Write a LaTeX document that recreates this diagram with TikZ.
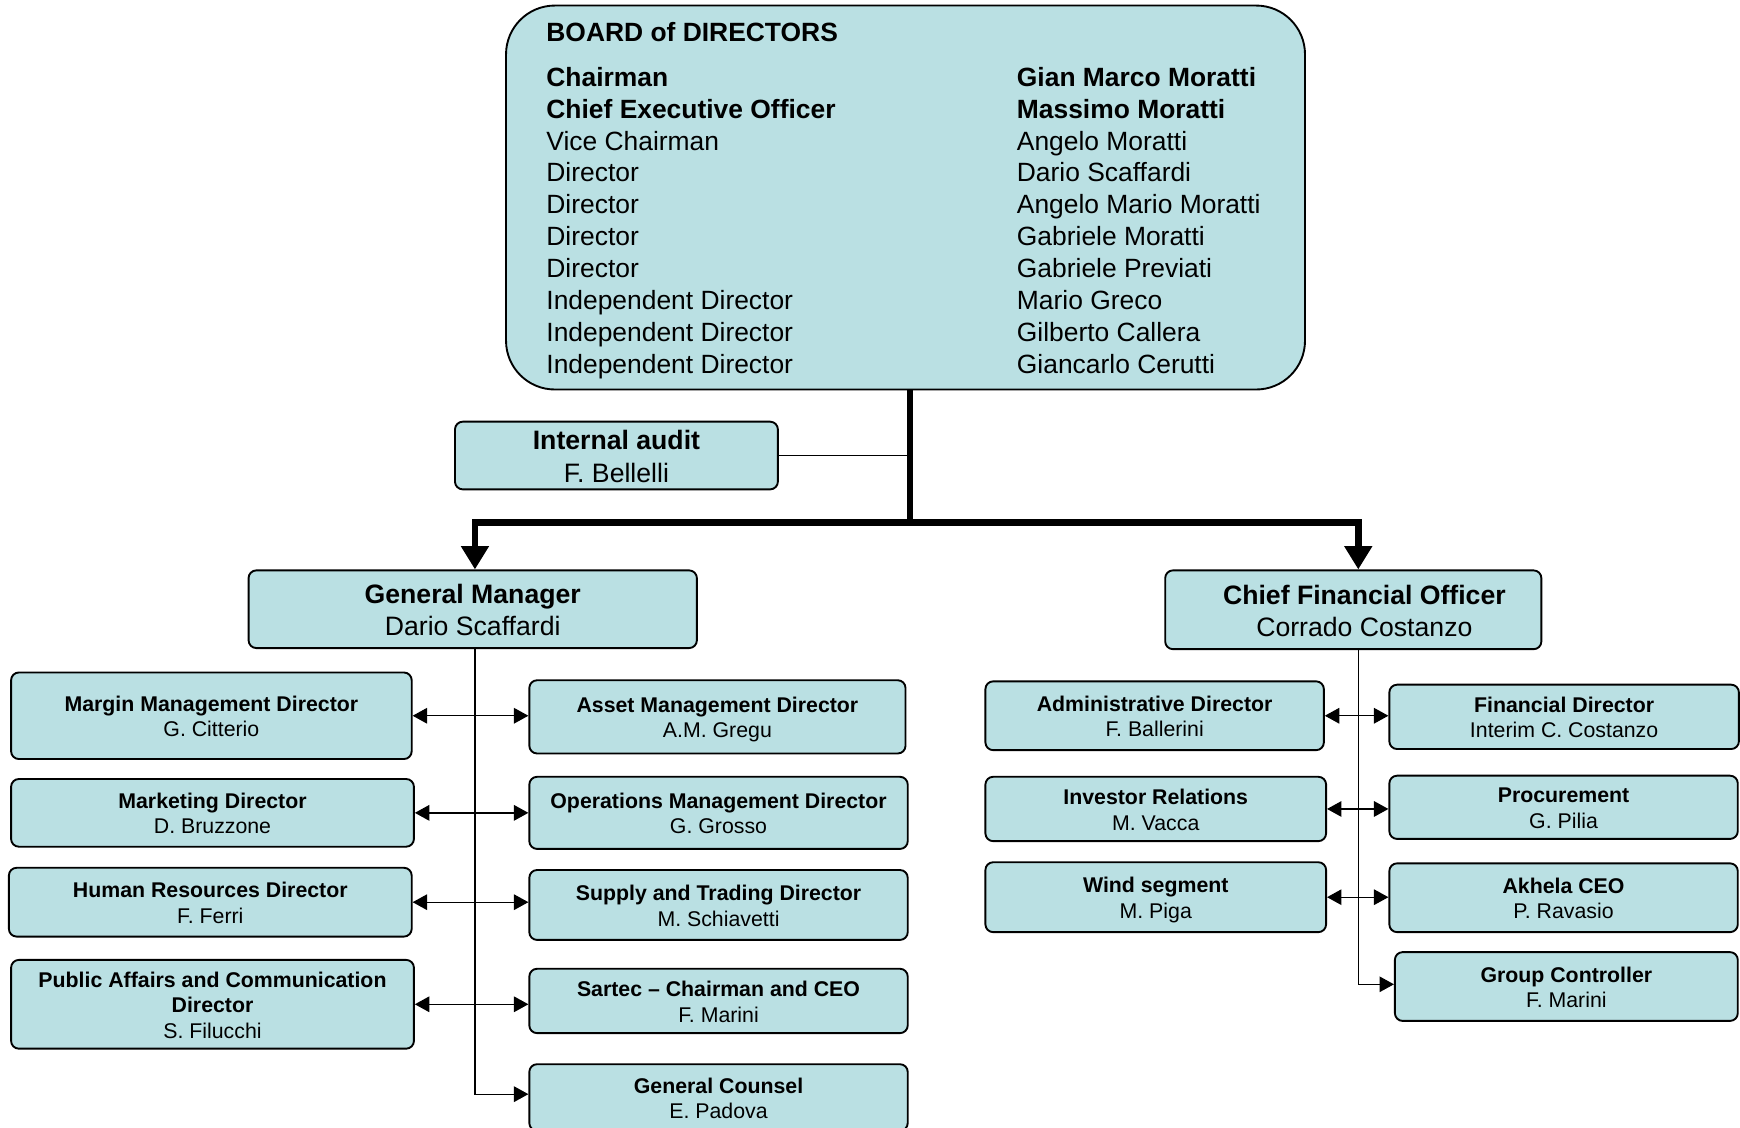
\documentclass[tikz,border=0pt]{standalone}
\usepackage{fontspec}
\setmainfont{Liberation Sans}
\usetikzlibrary{arrows.meta}
\definecolor{boxfill}{RGB}{186,224,227}

% invisible strut that centres cap-height text lines in a box
\newcommand\lnstrut{\rule[-0.2em]{0pt}{1.184em}}
% \orgbox{style}{name}{x1}{y1}{x2}{y2}{text}: box given by its corners
\newcommand\orgbox[7]{%
  \node[#1, minimum width={(#5-#3)*0.5pt}, minimum height={(#6-#4)*0.5pt}]
    (#2) at ({(#3+#5)/2},{(#4+#6)/2}) {\lnstrut#7\lnstrut};}

\tikzset{
  orgnode/.style={draw=black, line width=0.85pt, fill=boxfill,
    rounded corners=3.5pt, inner sep=0pt, align=center},
  subbox/.style={orgnode, font=\fontsize{9.6}{11.5}\selectfont},
  headbox/.style={orgnode, font=\fontsize{12}{14.5}\selectfont},
  boardbox/.style={orgnode, rounded corners=22pt},
  busline/.style={line width=0.6pt},
  feed/.style={busline, -{Triangle[length=6.5pt,width=7pt]}},
  twoway/.style={busline,
    {Triangle[length=6.5pt,width=7pt]}-{Triangle[length=6.5pt,width=7pt]}},
  mainline/.style={line width=3pt},
  mainfeed/.style={mainline, -{Triangle[length=10.5pt,width=12pt]}},
}

\begin{document}
\begin{tikzpicture}[x=0.5pt,y=-0.5pt]
\useasboundingbox (0,0) rectangle (1568,1016);
\clip (0,0) rectangle (1568,1016);

% board of directors
\orgbox{boardbox}{board}{456}{5}{1176}{351}{}
\node[anchor=base west, inner sep=0pt, font=\fontsize{11.9}{14.4}\selectfont]
  (boardtext) at (492,37) {%
  \begin{tabular}[t]{@{}p{212pt}@{}l@{}}
  \textbf{BOARD of DIRECTORS} & \\[5.9pt]
  \textbf{Chairman} & \textbf{Gian Marco Moratti}\\
  \textbf{Chief Executive Officer} & \textbf{Massimo Moratti}\\
  Vice Chairman & Angelo Moratti\\
  Director & Dario Scaffardi\\
  Director & Angelo Mario Moratti\\
  Director & Gabriele Moratti\\
  Director & Gabriele Previati\\
  Independent Director & Mario Greco\\
  Independent Director & Gilberto Callera\\
  Independent Director & Giancarlo Cerutti
  \end{tabular}};

% top level units
\orgbox{headbox}{audit}{410}{380}{701}{441}{\textbf{Internal audit}\\F. Bellelli}
\orgbox{headbox}{gm}{224}{514}{628}{584}{\textbf{General Manager}\\Dario Scaffardi}
\orgbox{headbox}{cfo}{1050}{514}{1389}{585}{\hspace*{10pt}\textbf{Chief Financial Officer}\\\hspace*{10pt}Corrado Costanzo}

% general manager's reports
\orgbox{subbox}{mm}{10}{606}{371}{684}{\textbf{Margin Management Director}\\G. Citterio}
\orgbox{subbox}{mk}{10}{702}{373}{763}{\textbf{Marketing Director}\\D. Bruzzone}
\orgbox{subbox}{hr}{8}{782}{371}{844}{\textbf{Human Resources Director}\\F. Ferri}
\orgbox{subbox}{pa}{10}{865}{373}{945}{\textbf{Public Affairs and Communication}\\\textbf{Director}\\S. Filucchi}
\orgbox{subbox}{am}{477}{613}{816}{679}{\textbf{Asset Management Director}\\A.M. Gregu}
\orgbox{subbox}{om}{477}{700}{818}{765}{\textbf{Operations Management Director}\\G. Grosso}
\orgbox{subbox}{st}{477}{784}{818}{847}{\textbf{Supply and Trading Director}\\M. Schiavetti}
\orgbox{subbox}{sc}{477}{873}{818}{931}{\textbf{Sartec -- Chairman and CEO}\\F. Marini}
\orgbox{subbox}{gc}{477}{959}{818}{1019}{\textbf{General Counsel}\\E. Padova}

% chief financial officer's reports
\orgbox{subbox}{adm}{888}{614}{1193}{676}{\textbf{Administrative Director}\\F. Ballerini}
\orgbox{subbox}{ir}{888}{700}{1195}{758}{\textbf{Investor Relations}\\M. Vacca}
\orgbox{subbox}{ws}{888}{777}{1195}{840}{\textbf{Wind segment}\\M. Piga}
\orgbox{subbox}{fin}{1252}{617}{1567}{675}{\textbf{Financial Director}\\Interim C. Costanzo}
\orgbox{subbox}{pro}{1252}{699}{1566}{756}{\textbf{Procurement}\\G. Pilia}
\orgbox{subbox}{akh}{1252}{778}{1566}{840}{\textbf{Akhela CEO}\\P. Ravasio}
\orgbox{subbox}{gctl}{1257}{858}{1566}{920}{\textbf{Group Controller}\\F. Marini}

% bus positions
\coordinate (j) at (820,471);
\coordinate (gmbus) at (428,986);
\coordinate (cfobus) at (1224,887);

% main reporting lines
\draw[mainline] (board.south -| j) -- (j);
\draw[mainfeed] (j) -| (gm.north -| gmbus);
\draw[mainfeed] (j) -| (cfo.north -| cfobus);
\draw[busline] (audit.east) -- (audit.east -| j);

% general manager's bus
\draw[feed] (gm.south -| gmbus) -- (gmbus) -- (gc.west |- gmbus);
\draw[twoway] (mm.east) -- (mm.east -| am.west);
\draw[twoway] (mk.east) -- (mk.east -| om.west);
\draw[twoway] (hr.east) -- (hr.east -| st.west);
\draw[twoway] (pa.east) -- (pa.east -| sc.west);

% chief financial officer's bus
\draw[feed] (cfo.south -| cfobus) -- (cfobus) -- (gctl.west |- cfobus);
\draw[twoway] (adm.east) -- (adm.east -| fin.west);
\draw[twoway] (ir.east) -- (ir.east -| pro.west);
\draw[twoway] (ws.east) -- (ws.east -| akh.west);
\end{tikzpicture}
\end{document}
